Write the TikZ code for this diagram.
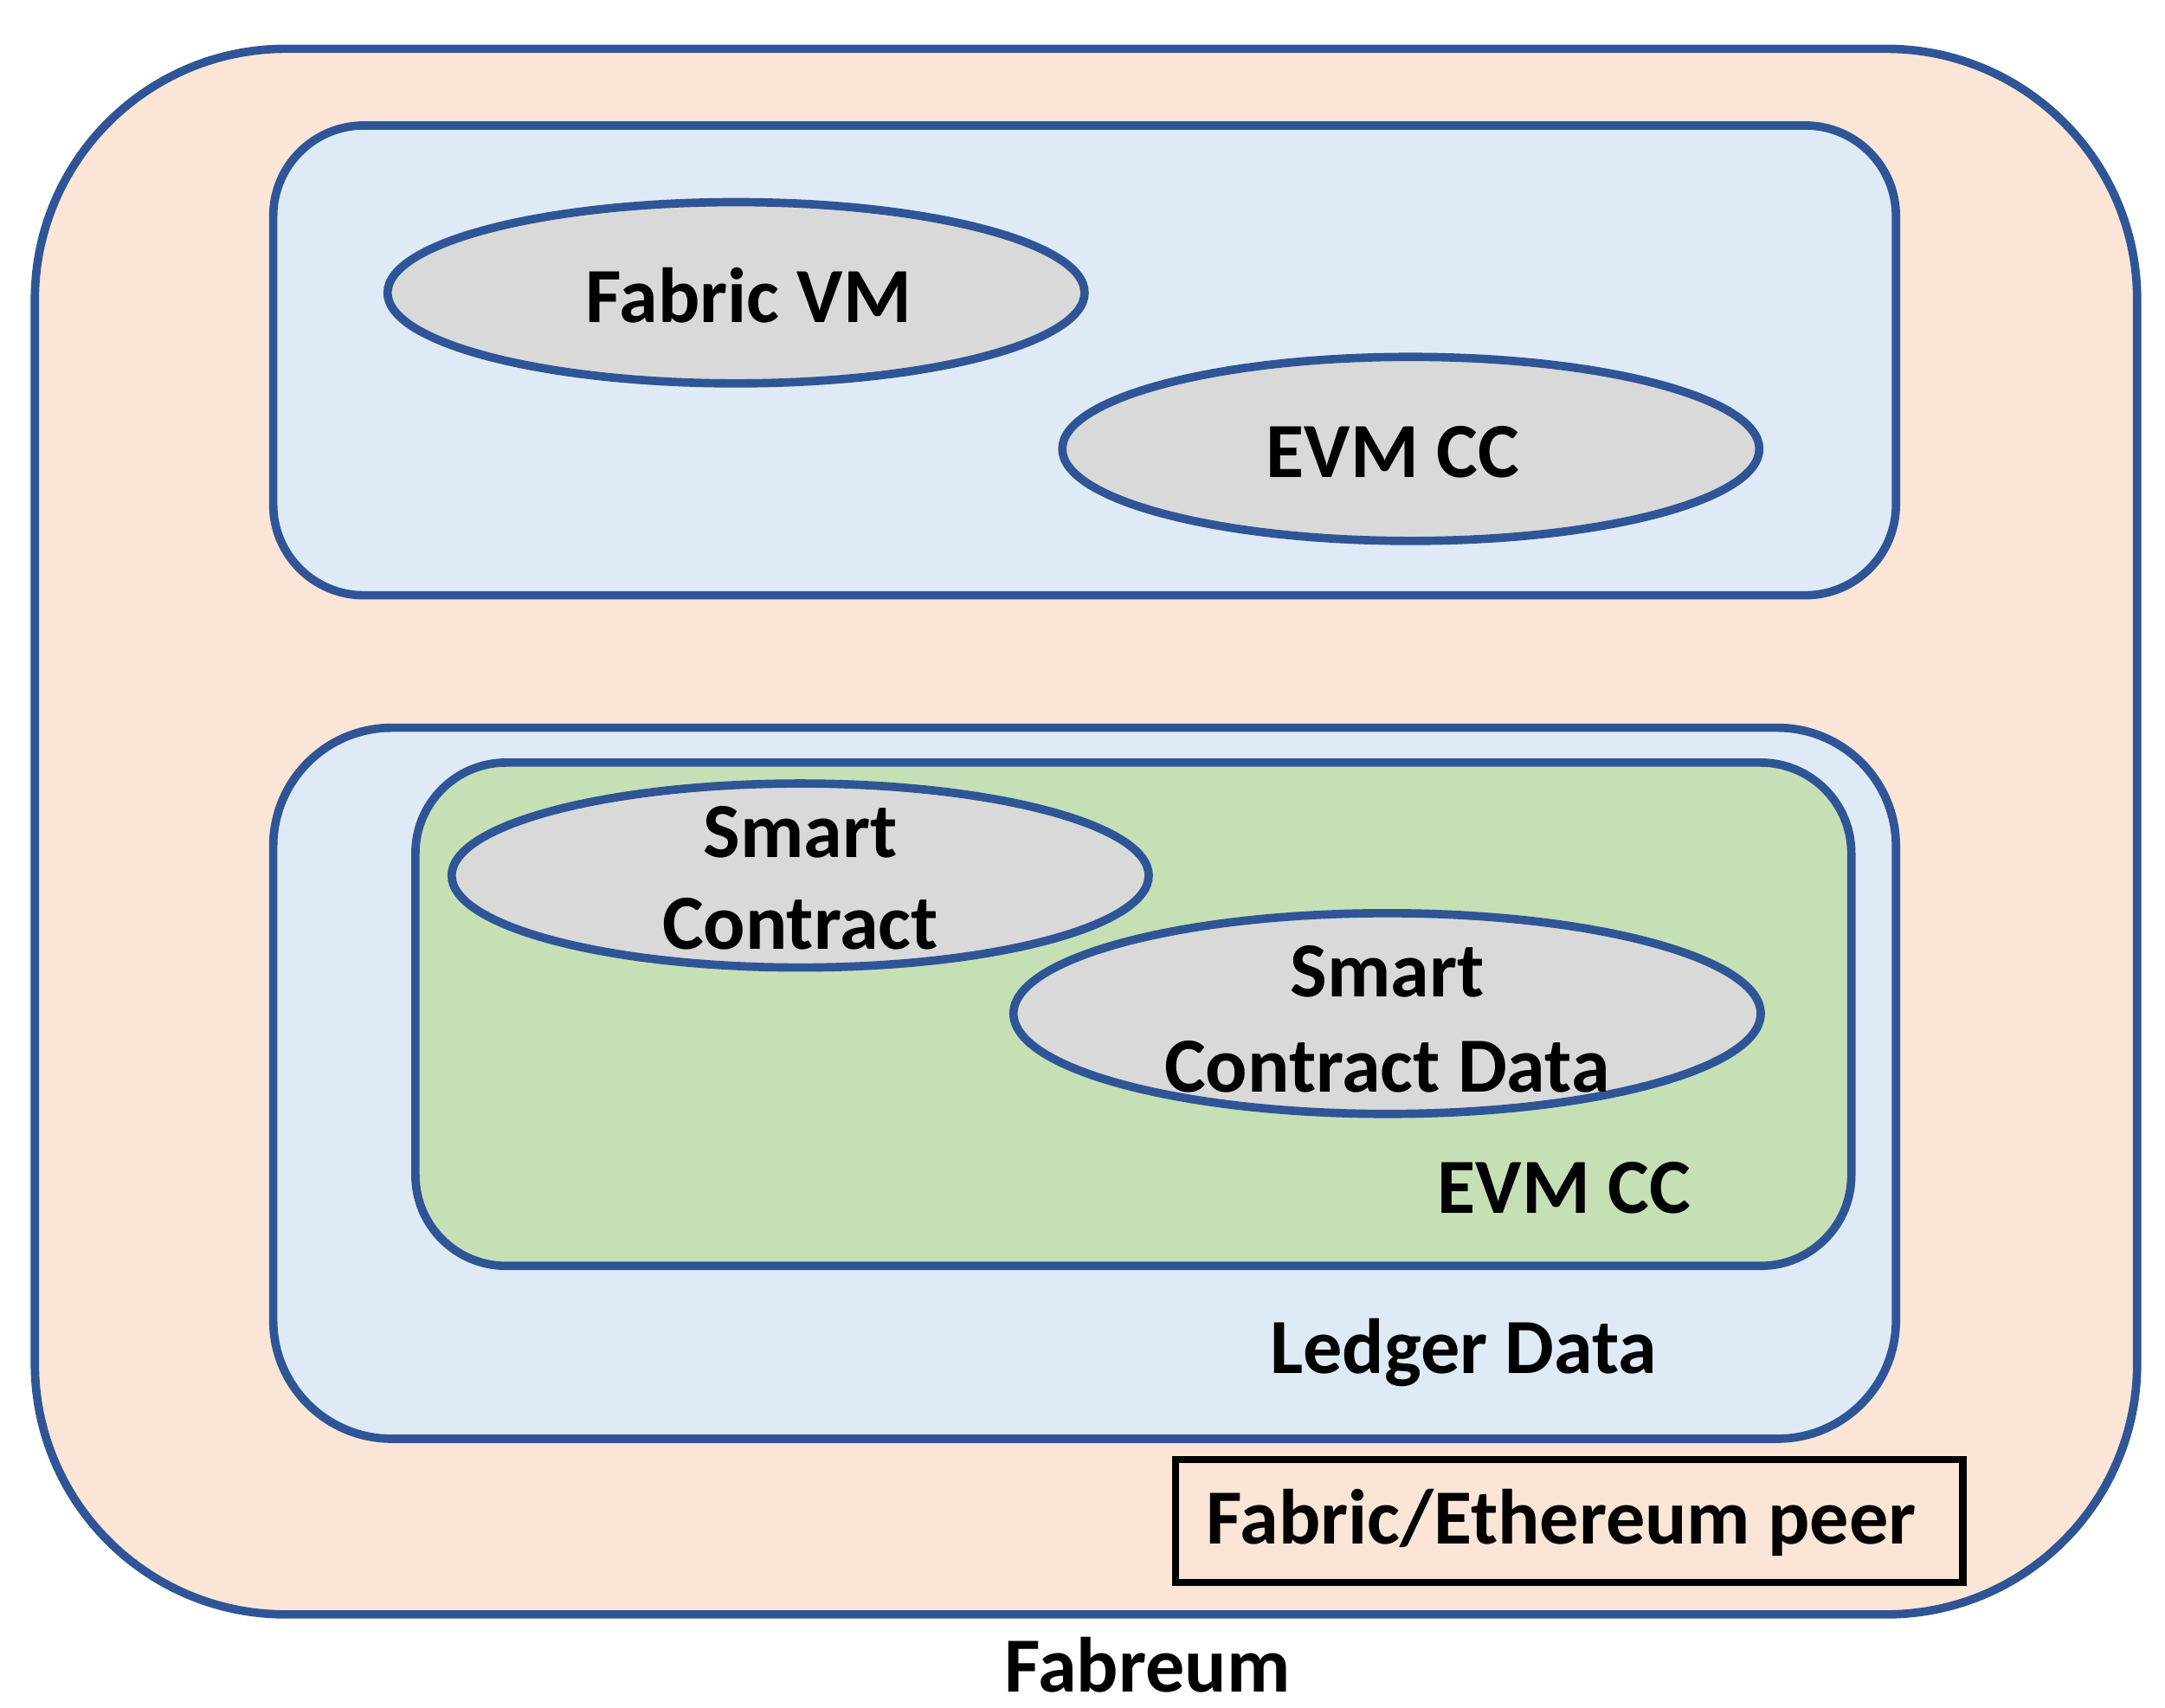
\documentclass[tikz,border=0pt]{standalone}
\usepackage{fontspec}
\setmainfont{Carlito}
\begin{document}
\begin{tikzpicture}[x=1pt,y=-1pt,
  lbl/.style={font=\fontsize{56}{66}\selectfont\bfseries, align=center, inner sep=0pt}]
\definecolor{bd}{RGB}{47,85,151}
\tikzset{bl/.style={draw=bd, line width=6pt}}
\useasboundingbox (0,0) rectangle (1553,1225);
\draw[bl, fill={rgb,255:red,251;green,229;blue,214}, rounded corners=180pt] (25,35) rectangle (1533,1158);
\draw[bl, fill={rgb,255:red,222;green,235;blue,247}, rounded corners=65pt] (196,90) rectangle (1360,427);
\draw[bl, fill={rgb,255:red,222;green,235;blue,247}, rounded corners=85pt] (196,522) rectangle (1360,1032);
\draw[bl, fill={rgb,255:red,197;green,224;blue,180}, rounded corners=65pt] (298,547) rectangle (1328,908);
\draw[bl, fill={rgb,255:red,217;green,217;blue,217}] (528,210) ellipse (250pt and 65pt);
\draw[bl, fill={rgb,255:red,217;green,217;blue,217}] (1012,322) ellipse (250pt and 66pt);
\draw[bl, fill={rgb,255:red,217;green,217;blue,217}] (574,628) ellipse (250pt and 66pt);
\draw[bl, fill={rgb,255:red,217;green,217;blue,217}] (995,727) ellipse (268pt and 72pt);
\node[lbl] (fvm) at (537,212) {Fabric VM};
\node[lbl] (evm1) at (999,324) {EVM CC};
\node[lbl] (sc1) at (574,597) {Smart};
\node[lbl] (sc2) at (574,663) {Contract};
\node[lbl] (sd1) at (995,697) {Smart};
\node[lbl] (sd2) at (995,765) {Contract Data};
\node[lbl] (evm2) at (1122,852) {EVM CC};
\node[lbl] (ledger) at (1050,970) {Ledger Data};
\draw[black, line width=5pt, fill={rgb,255:red,251;green,229;blue,214}] (843,1047) rectangle (1408,1135);
\node[lbl] (peer) at (1120,1092) {Fabric/Ethereum peer};
\node[lbl] (fab) at (823,1194) {Fabreum};
\end{tikzpicture}
\end{document}
